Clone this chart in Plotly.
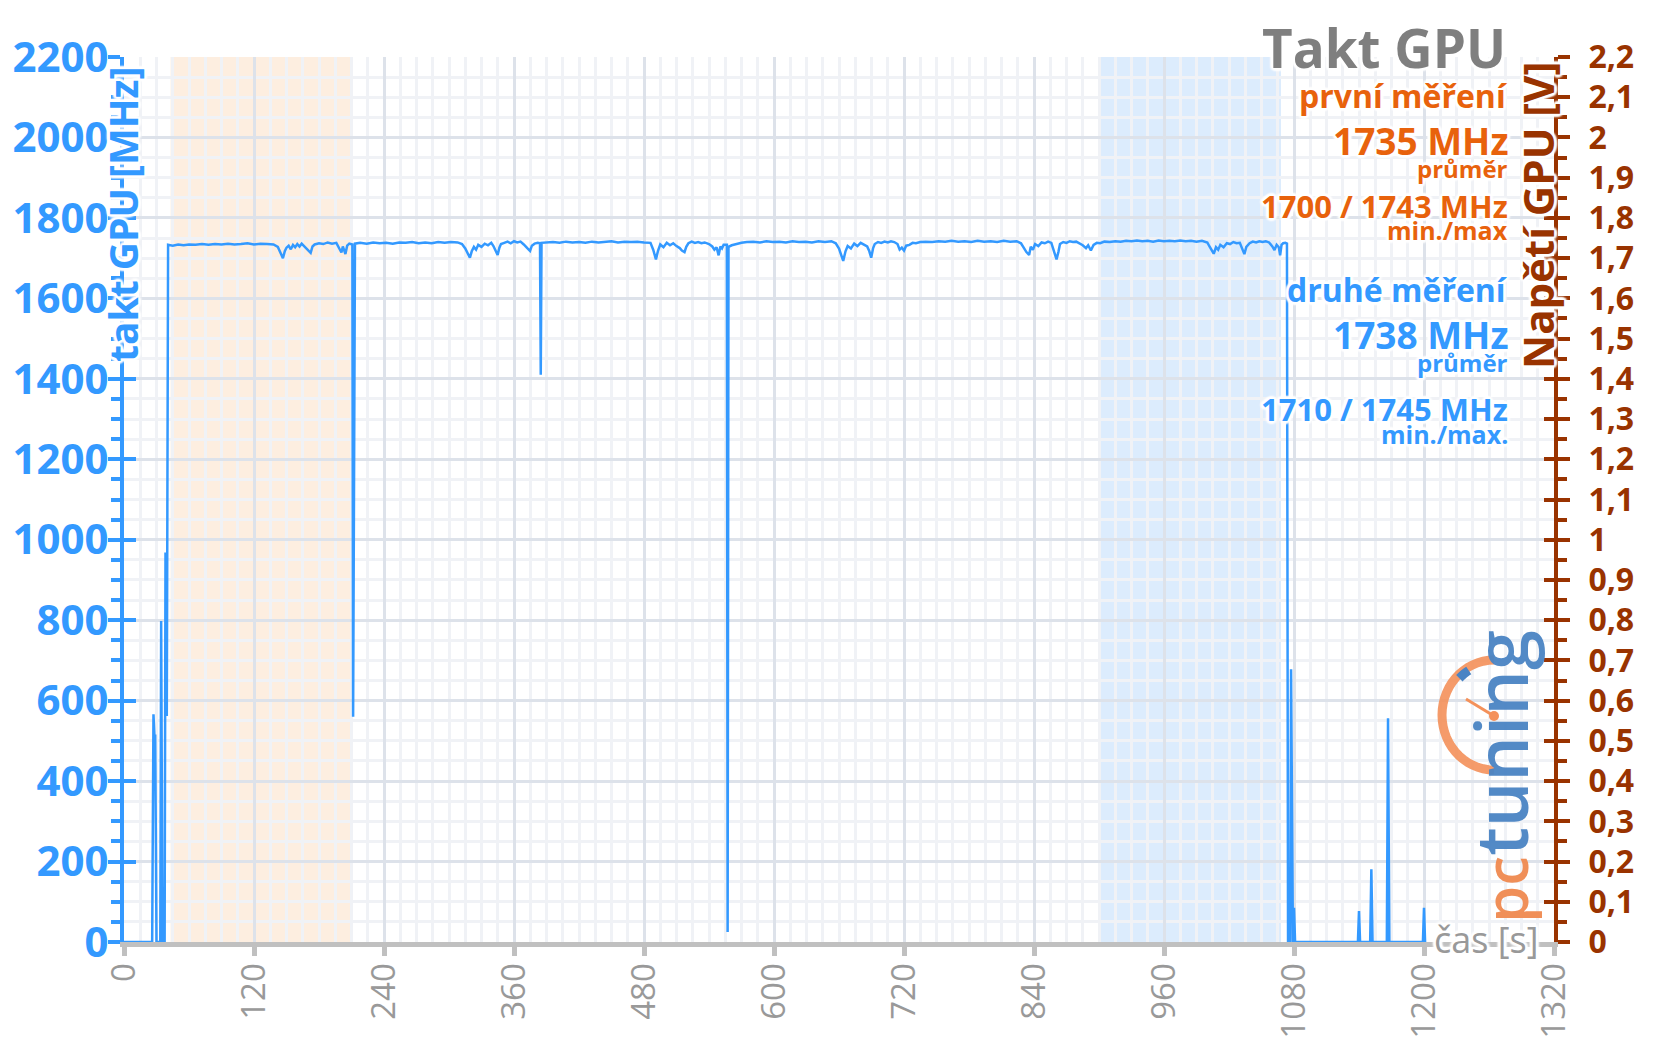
import math
import plotly.graph_objects as go

# ---------------- data ----------------
time_s = [
    0, 26, 27.2, 28.2, 28.8, 30.0, 33.5, 34.3, 35.5, 37.5, 38.3, 39.5,
    40.7, 45, 50, 55, 60, 66, 72, 78, 84, 90, 96, 102, 108, 114, 120, 126, 132, 138,
    142, 144, 146.7, 148.5, 150, 152, 154, 156, 158, 160, 162, 164, 166, 168, 170,
    172.3, 174, 176, 180, 184, 188, 192, 196, 198, 200.7, 202, 204.4, 206, 208,
    210.8, 211.5, 213.2,
    218, 224, 230, 236, 242, 248, 254, 260, 266, 272, 278, 284, 290, 296, 302, 308,
    312, 315, 317, 319.3, 321, 323, 325, 327, 330, 333, 336, 339, 341, 343, 344.9,
    346.5, 348, 351, 354, 357, 360, 363, 366, 369, 371, 372.5, 374.8, 376.5, 379,
    382, 384, 384.7, 385.4,
    390, 396, 402, 408, 414, 420, 426, 432, 438, 444, 450, 456, 462, 468, 474, 480,
    486, 488.5, 491, 493, 495, 498, 501, 504, 507, 510, 513, 515, 517.4, 519, 521,
    524, 527, 530, 533, 536, 540, 543, 545, 547, 548.9, 550.5, 552, 553.5, 556.5,
    557.2, 558, 561, 565, 570,
    575, 581, 587, 593, 599, 605, 611, 617, 623, 629, 635, 641, 647, 653, 657, 660,
    663.9, 666, 668, 671, 674, 677, 680, 683, 686, 688, 689.7, 691.5, 693, 696, 699,
    702, 705, 708, 711, 714, 716, 718, 720, 722, 725, 728, 731, 735, 740,
    746, 752, 758, 764, 770, 776, 782, 788, 794, 800, 806, 812, 818, 824, 828, 831,
    833, 835.5, 837, 839, 841, 844, 847, 850, 853, 856, 858.5, 860.8, 862.5, 864,
    867, 870, 873, 876, 879, 882, 885, 888, 890, 892.5, 895, 898, 901, 905, 910, 915,
    920, 925, 930, 935, 940, 945, 950, 955, 960, 965, 970, 975, 980, 985, 990, 995,
    1000, 1002, 1004, 1005.9, 1008, 1010, 1012, 1015, 1018, 1021, 1024, 1027, 1030,
    1032, 1034.2, 1036, 1039, 1042, 1045, 1048, 1051, 1054, 1057, 1060, 1062, 1064,
    1066, 1067.2, 1068.5, 1070, 1072, 1073.5,
    1074.5, 1076.5, 1077.3, 1079, 1080, 1081, 1139, 1140, 1141, 1150.3, 1151.4,
    1152.5, 1165.7, 1166.8, 1168, 1199, 1200, 1201,
]
clock_mhz = [
    0, 0, 566, 505, 516, 0, 0, 798, 0, 0, 968, 562,
    1733, 1731, 1734, 1732, 1734, 1733, 1735, 1733, 1735, 1734, 1736, 1734, 1735, 1737, 1734, 1736, 1735, 1734,
    1728, 1715, 1700, 1718, 1726, 1731, 1722, 1733, 1727, 1735, 1729, 1736, 1731, 1726, 1719,
    1713, 1729, 1734, 1737, 1735, 1739, 1736, 1738, 1729, 1714, 1729, 1710, 1731, 1736,
    1734, 560, 1736,
    1738, 1736, 1739, 1737, 1738, 1736, 1739, 1738, 1740, 1737, 1739, 1737, 1740, 1738, 1740, 1739,
    1735, 1724, 1712, 1701, 1717, 1728, 1721, 1733, 1728, 1736, 1732, 1738, 1730, 1719, 1708,
    1726, 1735, 1738, 1741, 1737, 1742, 1739, 1741, 1734, 1727, 1724, 1718, 1731, 1736,
    1738, 1737, 1410, 1738,
    1739, 1740, 1738, 1741, 1739, 1740, 1738, 1741, 1739, 1740, 1742, 1739, 1741, 1740, 1741, 1739,
    1738, 1721, 1697, 1719, 1734, 1727, 1738, 1732, 1737, 1730, 1725, 1719, 1715, 1728, 1737,
    1741, 1738, 1740, 1737, 1739, 1735, 1729, 1721, 1727, 1707, 1729, 1724, 1733, 1733,
    25, 1728, 1732, 1735, 1738,
    1740, 1741, 1739, 1742, 1740, 1741, 1739, 1742, 1740, 1741, 1739, 1742, 1740, 1742, 1737, 1724,
    1693, 1717, 1730, 1724, 1736, 1730, 1738, 1734, 1729, 1717, 1701, 1725, 1735, 1740, 1738,
    1741, 1739, 1742, 1740, 1735, 1721, 1726, 1719, 1731, 1733, 1738, 1737, 1740, 1741,
    1740, 1742, 1741, 1743, 1741, 1742, 1740, 1743, 1741, 1742, 1740, 1743, 1741, 1742, 1737, 1724,
    1715, 1708, 1728, 1721, 1735, 1730, 1739, 1737, 1741, 1738, 1719, 1697, 1715, 1735,
    1740, 1738, 1742, 1740, 1741, 1737, 1732, 1725, 1732, 1719, 1733, 1738, 1737, 1741, 1740, 1742,
    1741, 1743, 1742, 1744, 1742, 1743, 1741, 1744, 1742, 1743, 1742, 1744, 1742, 1743, 1741, 1743,
    1739, 1729, 1719, 1711, 1727, 1721, 1733, 1727, 1737, 1735, 1740, 1737, 1738,
    1725, 1710, 1728, 1737, 1741, 1739, 1742, 1740, 1742, 1739, 1729, 1720, 1733,
    1727, 1707, 1733, 1737, 1738, 1736,
    0, 0, 678, 0, 85, 0, 0, 77, 0, 0, 181,
    0, 0, 556, 0, 0, 85, 0,
]

first_run_window = [43, 209]      # s, orange band
second_run_window = [901, 1068]   # s, blue band

x_range = [0, 1320]
mhz_range = [0, 2200]
volt_range = [0, 2.2]

chart_title = "Takt GPU"
left_title = "takt GPU [MHz]"
right_title = "Napětí GPU [V]"
x_title = "čas [s]"

first_label = "první měření"
first_avg = "1735 MHz"
first_minmax = "1700 / 1743 MHz"
second_label = "druhé měření"
second_avg = "1738 MHz"
second_minmax = "1710 / 1745 MHz"

# ---------------- styling ----------------
BLUE = "#3399ff"
ORANGE = "#e8620c"
BROWN = "#993300"
GRAY_TXT = "#999999"
AX_GRAY = "#c0c0c0"
GRID = "#dde2ea"
GRID_MINOR = "#f0f2f6"
FONT = "Open Sans"
GLOW = ("0px 0px 3px #ffffff, 0px 0px 3px #ffffff, 0px 0px 3px #ffffff, "
        "2px 2px 2px #ffffff, -2px -2px 2px #ffffff, 2px -2px 2px #ffffff, -2px 2px 2px #ffffff, "
        "3px 0px 2px #ffffff, -3px 0px 2px #ffffff, 0px 3px 2px #ffffff, 0px -3px 2px #ffffff")

L, R, T, B = 124, 102, 57, 102
W, H = 1656, 1044
PW, PH = W - L - R, H - T - B


def px(xf):
    return (xf - L) / PW


def py(yf):
    return (H - B - yf) / PH


fig = go.Figure()
fig.add_trace(go.Scatter(x=time_s, y=clock_mhz, mode="lines",
                         line=dict(color=BLUE, width=2.5), hoverinfo="skip"))
# helper (empty) traces so the overlay axes exist
fig.add_trace(go.Scatter(x=[], y=[], yaxis="y2"))
fig.add_trace(go.Scatter(x=[], y=[], yaxis="y3"))
fig.add_trace(go.Scatter(x=[], y=[], yaxis="y4"))

shapes = [
    dict(type="rect", xref="x", yref="paper", x0=first_run_window[0], x1=first_run_window[1],
         y0=0, y1=1, fillcolor="#fdeee0", line=dict(width=0), layer="below"),
    dict(type="rect", xref="x", yref="paper", x0=second_run_window[0], x1=second_run_window[1],
         y0=0, y1=1, fillcolor="#dcecfd", line=dict(width=0), layer="below"),
]

# ---- pctuning logo (decoration) ----
cx, cy, rx, ry = 1494, 715, 52, 55
arc = []
for k in range(0, 31):
    th = math.radians(90 + 6 * k)
    arc.append((px(cx + rx * math.cos(th)), py(cy - ry * math.sin(th))))
path = "M " + " L ".join(f"{a:.5f},{b:.5f}" for a, b in arc)
shapes.append(dict(type="path", xref="paper", yref="paper", path=path,
                   line=dict(color="#f4915a", width=9), layer="above", opacity=0.9))
mark = []
for k in range(0, 5):
    th = math.radians(121 + 3.5 * k)
    mark.append((px(cx + (rx - 3) * math.cos(th)), py(cy - (ry - 3) * math.sin(th))))
shapes.append(dict(type="path", xref="paper", yref="paper",
                   path="M " + " L ".join(f"{a:.5f},{b:.5f}" for a, b in mark),
                   line=dict(color="#4a84c4", width=9), layer="above"))
shapes.append(dict(type="line", xref="paper", yref="paper", x0=px(cx), y0=py(cy + 1),
                   x1=px(1466), y1=py(699), line=dict(color="#f4915a", width=3), layer="above"))
shapes.append(dict(type="circle", xref="paper", yref="paper", x0=px(cx - 5), x1=px(cx + 5),
                   y0=py(cy + 6), y1=py(cy - 4), fillcolor="#f4915a", line=dict(width=0),
                   layer="above"))


def ann(text, xf, yf, size, color, weight="bold", xanchor="right", angle=0, shadow=GLOW):
    return dict(text=text, x=px(xf), y=py(yf), xref="paper", yref="paper",
                xanchor=xanchor, yanchor="middle", showarrow=False, textangle=angle,
                font=dict(family=FONT, size=size, color=color, weight=weight, shadow=shadow))


XR = 1510
annotations = [
    ann(chart_title, 1508, 47, 53, "#7f7f7f"),
    ann(first_label, XR, 95, 32, ORANGE),
    ann(first_avg, XR, 140, 37, ORANGE),
    ann("průměr", XR, 168, 24, ORANGE),
    ann(first_minmax, XR, 206, 31, ORANGE),
    ann("min./max", XR, 230, 25, ORANGE),
    ann(second_label, XR, 289, 32, BLUE),
    ann(second_avg, XR, 334, 37, BLUE),
    ann("průměr", XR, 362, 24, BLUE),
    ann(second_minmax, XR, 409, 31, BLUE),
    ann("min./max.", XR, 434, 25, BLUE),
    ann(left_title, 122, 214, 39, BLUE, xanchor="center", angle=-90),
    ann(right_title, 1537, 216, 42, BROWN, xanchor="center", angle=-90),
    ann(x_title, 1486, 939, 36, GRAY_TXT, weight="normal", xanchor="center"),
    dict(text='<span style="color:#f08a50;font-size:60px">pc</span>'
              '<span style="color:#4a84c4">tuning</span>',
         x=px(1500), y=py(777), xref="paper", yref="paper", xanchor="center",
         yanchor="middle", showarrow=False, textangle=-90, opacity=0.95,
         font=dict(family=FONT, size=72, weight=600)),
]

fig.update_layout(
    width=W, height=H,
    margin=dict(l=L, r=R, t=T, b=B, autoexpand=False),
    paper_bgcolor="white", plot_bgcolor="white",
    showlegend=False, separators=", ",
    font=dict(family=FONT),
    shapes=shapes, annotations=annotations,
    xaxis=dict(range=x_range, tickmode="linear", tick0=0, dtick=120, tickangle=-90,
               ticks="outside", ticklen=9, tickwidth=5, tickcolor=AX_GRAY,
               showline=True, linecolor=AX_GRAY, linewidth=5,
               showgrid=True, gridcolor=GRID, gridwidth=3, zeroline=False,
               minor=dict(dtick=15, showgrid=True, gridcolor=GRID_MINOR, gridwidth=3),
               ticklabelstandoff=-6,
               tickfont=dict(family=FONT, size=33, color=GRAY_TXT)),
    yaxis=dict(range=mhz_range, tickmode="linear", tick0=0, dtick=200,
               ticks="outside", ticklen=12, tickwidth=4, tickcolor=BLUE,
               showline=True, linecolor=BLUE, linewidth=4,
               showgrid=True, gridcolor=GRID, gridwidth=3, zeroline=False,
               minor=dict(dtick=50, ticks="outside", ticklen=9, tickwidth=4, tickcolor=BLUE,
                          showgrid=True, gridcolor=GRID_MINOR, gridwidth=3),
               ticklabelstandoff=-9,
               tickfont=dict(family=FONT, size=42, color=BLUE, weight="bold")),
    yaxis2=dict(range=volt_range, overlaying="y", side="right", anchor="x",
                tickmode="linear", tick0=0, dtick=0.1,
                ticks="outside", ticklen=12, tickwidth=4, tickcolor=BROWN,
                showline=True, linecolor=BROWN, linewidth=4,
                showgrid=False, zeroline=False,
                minor=dict(dtick=0.05, ticks="outside", ticklen=9, tickwidth=4, tickcolor=BROWN),
                ticklabelstandoff=12,
                tickfont=dict(family=FONT, size=32, color=BROWN, weight="bold")),
    yaxis3=dict(range=mhz_range, overlaying="y", side="left", anchor="x",
                tickmode="linear", tick0=0, dtick=200, ticks="inside", ticklen=12,
                tickwidth=4, tickcolor=BLUE, showticklabels=False, showgrid=False,
                showline=False, zeroline=False),
    yaxis4=dict(range=volt_range, overlaying="y", side="right", anchor="x",
                tickmode="linear", tick0=0, dtick=0.1, ticks="inside", ticklen=10,
                tickwidth=4, tickcolor=BROWN, showticklabels=False, showgrid=False,
                showline=False, zeroline=False),
)

fig.write_html("out.html")
